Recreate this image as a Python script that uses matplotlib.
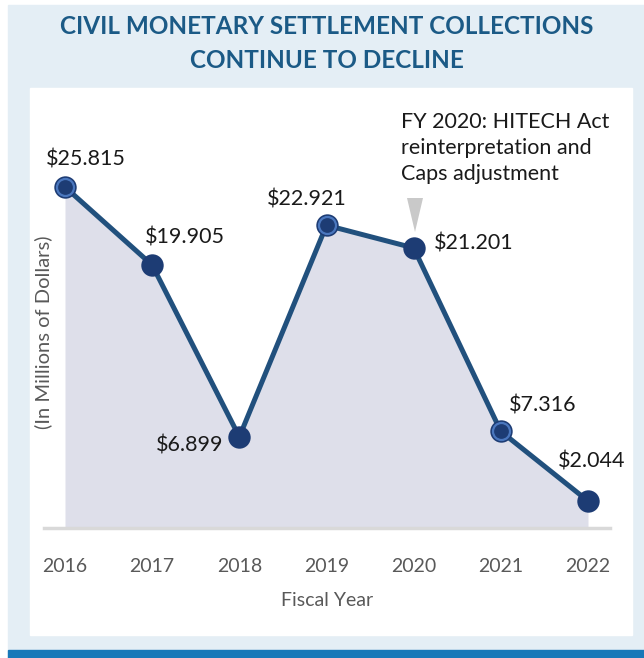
import matplotlib
matplotlib.use("Agg")
import matplotlib.pyplot as plt
from matplotlib.patches import Rectangle, Polygon

plt.rcParams['font.family'] = ['Lato', 'DejaVu Sans']

years = [2016, 2017, 2018, 2019, 2020, 2021, 2022]
collections = [25.815, 19.905, 6.899, 22.921, 21.201, 7.316, 2.044]
value_labels = ["$25.815", "$19.905", "$6.899", "$22.921", "$21.201", "$7.316", "$2.044"]
ringed_years = [2016, 2019, 2021]
title_lines = ["CIVIL MONETARY SETTLEMENT COLLECTIONS", "CONTINUE TO DECLINE"]
note_text = "FY 2020: HITECH Act\nreinterpretation and\nCaps adjustment"

W, H = 644, 658
fig = plt.figure(figsize=(W / 100, H / 100), dpi=100)
fig.patch.set_facecolor("white")

def fx(px):
    return px / W

def fy(py):
    return 1 - py / H

# background panels
bg = fig.add_axes([0, 0, 1, 1], zorder=0)
bg.set_xlim(0, W)
bg.set_ylim(H, 0)
bg.axis("off")
bg.add_patch(Rectangle((8, 5), W - 8, H - 5, color="#E4EEF5"))
bg.add_patch(Rectangle((30, 88), 602, 547, color="white"))
bg.add_patch(Rectangle((8, 650), W - 8, 8, color="#1878B8"))

title_color = "#1B5A86"
fig.text(fx(327), fy(27), title_lines[0], ha="center", va="center", fontsize=17.5,
         fontweight="bold", color=title_color)
fig.text(fx(327), fy(61), title_lines[1], ha="center", va="center", fontsize=17.5,
         fontweight="bold", color=title_color)

# main axes: pixel box x 44..610, y 100..528
ax_l, ax_r, ax_t, ax_b = 44, 610, 100, 528
ax = fig.add_axes([fx(ax_l), fy(ax_b), fx(ax_r - ax_l), (ax_b - ax_t) / H], zorder=1)
ax.patch.set_alpha(0)
px_per_year = (588 - 65) / 6
ax.set_xlim(2016 - (65 - ax_l) / px_per_year, 2022 + (ax_r - 588) / px_per_year)
px_per_unit = (501 - 187) / (25.815 - 2.044)
ax.set_ylim(0, (ax_b - ax_t) / px_per_unit)

for s in ["top", "right", "left"]:
    ax.spines[s].set_visible(False)
ax.spines["bottom"].set_color("#D9D9D9")
ax.spines["bottom"].set_linewidth(2.5)
ax.set_yticks([])
ax.set_xticks(years)
ax.set_xticklabels([str(y) for y in years])
ax.tick_params(axis="x", length=0, pad=21.5, labelsize=14, labelcolor="#595959")

ax.fill_between(years, collections, 0, color="#DEDFEA", zorder=1, linewidth=0)
ax.plot(years, collections, color="#21507D", linewidth=3.6, zorder=2,
        solid_capstyle="round")
ax.scatter(years, collections, s=260, color="#1D3C74", zorder=3, linewidths=0)
ring_vals = [collections[years.index(y)] for y in ringed_years]
ax.scatter(ringed_years, ring_vals, s=150, facecolor="#1D3C74", edgecolor="#4A77BE",
           linewidths=1.6, zorder=4)

ax.set_xlabel("Fiscal Year", fontsize=14, color="#595959", labelpad=12)
fig.text(fx(43), fy(332), "(In Millions of Dollars)", rotation=90, ha="center",
         va="center", fontsize=14.5, color="#595959")

# value labels (offsets in points)
label_offsets = [(15, 19.5, "center"), (-5, 19.5, "left"), (-11.5, -6, "right"),
                 (-14.4, 18.7, "center"), (14.4, 2.9, "left"), (5.8, 18.7, "left"),
                 (-21.6, 28.8, "left")]
for x, v, lab, (dx, dy, ha) in zip(years, collections, value_labels, label_offsets):
    ax.annotate(lab, (x, v), xytext=(dx, dy), textcoords="offset points",
                ha=ha, va="center", fontsize=15.5, color="#1A1A1A", zorder=5)

# note with pointer
fig.text(fx(401), fy(112), note_text, ha="left", va="top", fontsize=15.5,
         color="#1A1A1A", linespacing=1.38)
tri = fig.add_axes([0, 0, 1, 1], zorder=2)
tri.set_xlim(0, W)
tri.set_ylim(H, 0)
tri.axis("off")
tri.add_patch(Polygon([(407, 198), (423, 198), (415, 232)], closed=True,
                      color="#C9C9C9", linewidth=0))

fig.savefig("out.png", dpi=100)
